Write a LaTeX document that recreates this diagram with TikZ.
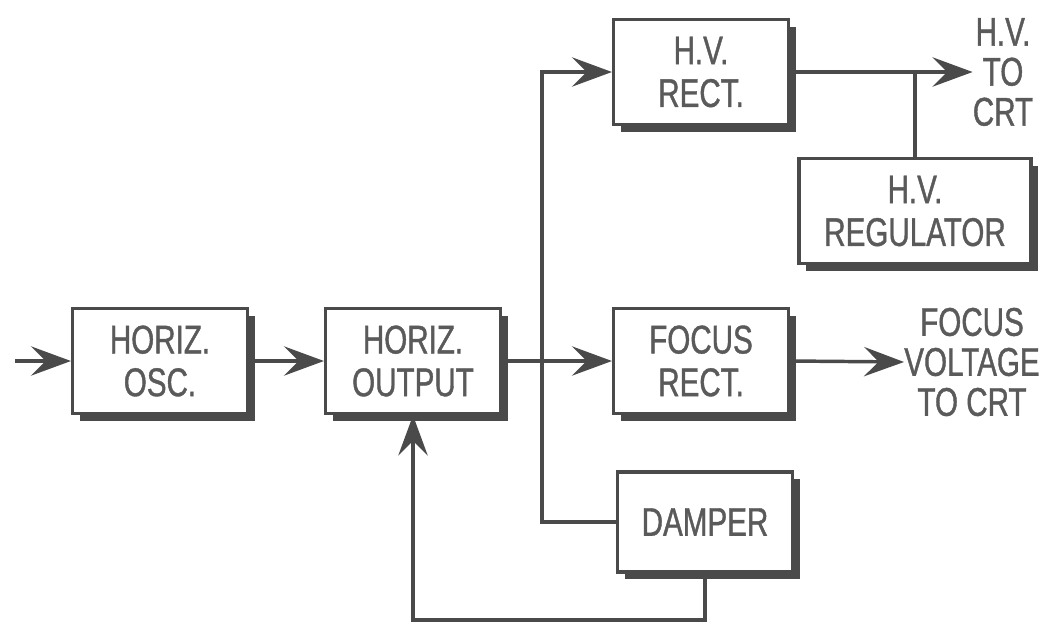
\documentclass[tikz,border=0pt]{standalone}
\usepackage{fontspec}
\setmainfont[FakeStretch=0.74, FakeBold=1]{Liberation Sans}
\usepackage{xcolor}
\usepackage{tikz}
\usetikzlibrary{arrows.meta,positioning,shadows}
\definecolor{ink}{HTML}{4a4a4a}
\definecolor{lettering}{HTML}{5a5a5a}

\begin{document}
\begin{tikzpicture}[
  x=0.75pt, y=-0.75pt,
  blk/.style={rectangle, draw=ink, line width=2.6pt, fill=white,
    minimum width=131pt, minimum height=79pt, align=center,
    text=lettering, font=\fontsize{30}{32}\selectfont,
    drop shadow={shadow xshift=5.5pt, shadow yshift=-5.5pt, fill=ink, opacity=1}},
  lbl/.style={align=center, text=lettering, font=\fontsize{30}{30}\selectfont, inner sep=0pt},
  wire/.style={draw=ink, line width=2.6pt},
  arr/.style={wire, -{Stealth[length=30pt, width=22pt, inset=11pt]}}
]
\useasboundingbox (0,0) rectangle (1056,625);
\node[blk] (osc)    at (160,361) {HORIZ.\\OSC.};
\node[blk] (output) at (413,361) {HORIZ.\\OUTPUT};
\node[blk] (hvrect) at (701,72)  {H.V.\\RECT.};
\node[blk, minimum width=174pt] (hvreg) at (915,211) {H.V.\\REGULATOR};
\node[blk] (focus)  at (701,361) {FOCUS\\RECT.};
\node[blk, minimum height=75pt] (damper) at (705,522) {DAMPER};
\node[lbl] (hvcrt)  at (1003,72) {H.V.\\TO\\CRT};
\node[lbl] (fvcrt)  at (972,362) {FOCUS\\VOLTAGE\\TO CRT};
\coordinate (in)    at (15,361);
\coordinate (split) at (542,361);
\coordinate (tap)   at (hvreg.north |- hvrect.east);
\coordinate (fb)    at (output.south |- 0,620);
% main chain
\draw[arr] (in) -- (osc.west);
\draw[arr] (osc.east) -- (output.west);
\draw[wire] (output.east) -- (split);
\draw[arr] (split) -- (focus.west);
\draw[arr] (split) |- (hvrect.west);
\draw[wire] (split) |- (damper.west);
% outputs
\draw[arr] (hvrect.east) -- (hvrect.east -| hvcrt.west);
\draw[wire] (tap) -- (hvreg.north);
\draw[arr] (focus.east) -- (fvcrt.west);
% feedback from damper
\draw[arr] (damper.south) |- (fb) -- (output.south);
\end{tikzpicture}
\end{document}
